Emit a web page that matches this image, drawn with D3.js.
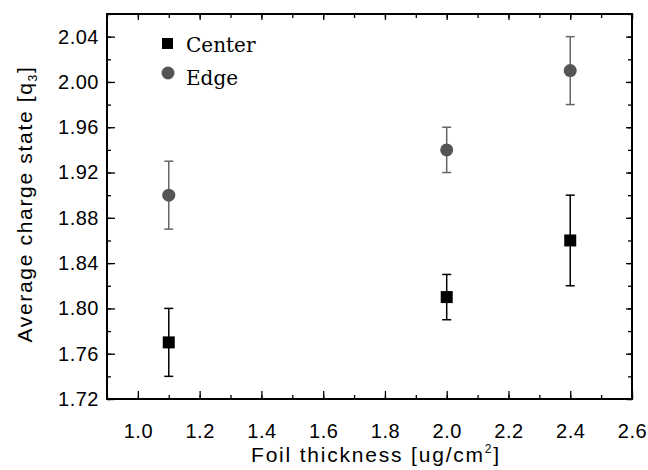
<!DOCTYPE html>
<html><head><meta charset="utf-8">
<script src="https://cdn.jsdelivr.net/npm/d3@7"></script>
<style>body{margin:0;background:#fff}</style>
</head><body>
<svg id="c" width="648" height="470"></svg>
<script>
const thickness = [1.1, 2.0, 2.4];
const centerVals = [1.77, 1.81, 1.86];
const centerErr = [0.03, 0.02, 0.04];
const edgeVals = [1.90, 1.94, 2.01];
const edgeErr = [0.03, 0.02, 0.03];
const xTicks = [1.0, 1.2, 1.4, 1.6, 1.8, 2.0, 2.2, 2.4, 2.6];
const yTicks = [1.72, 1.76, 1.80, 1.84, 1.88, 1.92, 1.96, 2.00, 2.04];

const svg = d3.select("#c");
const L = 107, R = 632, T = 14, B = 399;
const x = d3.scaleLinear().domain([0.9, 2.6]).range([L, R]);
const y = d3.scaleLinear().domain([1.72, 2.06]).range([B, T]);

const xMinor = d3.range(0.9, 2.6001, 0.1).map(v => +v.toFixed(2));
const yMinor = d3.range(1.72, 2.0601, 0.02).map(v => +v.toFixed(3));
const sans = "'Liberation Sans', Arial, sans-serif";

function axisG(gen, tr) {
  const g = svg.append("g").attr("transform", tr).call(gen);
  g.select(".domain").remove();
  g.selectAll("line").attr("stroke", "#000").attr("stroke-width", 1.3);
  return g;
}
axisG(d3.axisBottom(x).tickValues(xMinor).tickSize(-4).tickFormat(""), `translate(0,${B})`);
axisG(d3.axisTop(x).tickValues(xMinor).tickSize(-4).tickFormat(""), `translate(0,${T})`);
axisG(d3.axisLeft(y).tickValues(yMinor).tickSize(-4).tickFormat(""), `translate(${L},0)`);
axisG(d3.axisRight(y).tickValues(yMinor).tickSize(-4).tickFormat(""), `translate(${R},0)`);

const gx = axisG(d3.axisBottom(x).tickValues(xTicks).tickSize(-8).tickPadding(25).tickFormat(d3.format(".1f")), `translate(0,${B})`);
gx.selectAll("text").attr("font-family", sans).attr("font-size", 20).attr("letter-spacing", 0.5).attr("fill", "#000");
const gy = axisG(d3.axisLeft(y).tickValues(yTicks).tickSize(-8).tickPadding(8).tickFormat(d3.format(".2f")), `translate(${L},0)`);
gy.selectAll("text").attr("font-family", sans).attr("font-size", 20).attr("letter-spacing", 0.5).attr("fill", "#000");
axisG(d3.axisTop(x).tickValues(xTicks).tickSize(-6).tickFormat(""), `translate(0,${T})`);
axisG(d3.axisRight(y).tickValues(yTicks).tickSize(-6).tickFormat(""), `translate(${R},0)`);

svg.append("rect").attr("x", L).attr("y", T).attr("width", R - L).attr("height", B - T)
  .attr("fill", "none").attr("stroke", "#000").attr("stroke-width", 2);

function errBars(vals, errs, color) {
  const g = svg.append("g").attr("stroke", color).attr("stroke-width", 1.5);
  thickness.forEach((t, i) => {
    const cx = x(t), y1 = y(vals[i] + errs[i]), y2 = y(vals[i] - errs[i]);
    g.append("line").attr("x1", cx).attr("x2", cx).attr("y1", y1).attr("y2", y2);
    g.append("line").attr("x1", cx - 4.5).attr("x2", cx + 4.5).attr("y1", y1).attr("y2", y1);
    g.append("line").attr("x1", cx - 4.5).attr("x2", cx + 4.5).attr("y1", y2).attr("y2", y2);
  });
}
errBars(edgeVals, edgeErr, "#666");
errBars(centerVals, centerErr, "#000");

svg.append("g").selectAll("circle").data(thickness).join("circle")
  .attr("cx", d => x(d)).attr("cy", (d, i) => y(edgeVals[i])).attr("r", 6.5).attr("fill", "#555");
svg.append("g").selectAll("rect").data(thickness).join("rect")
  .attr("x", d => x(d) - 6).attr("y", (d, i) => y(centerVals[i]) - 6)
  .attr("width", 12).attr("height", 12).attr("fill", "#000");

// legend
const serif = "'DejaVu Serif', 'Liberation Serif', serif";
svg.append("rect").attr("x", 162).attr("y", 38).attr("width", 11).attr("height", 11).attr("fill", "#000");
svg.append("text").attr("x", 186).attr("y", 52).attr("font-family", serif).attr("font-size", 20).text("Center");
svg.append("circle").attr("cx", 168).attr("cy", 73).attr("r", 6.5).attr("fill", "#555");
svg.append("text").attr("x", 186).attr("y", 85).attr("font-family", serif).attr("font-size", 20).text("Edge");

function fitSpacing(t, target, n) {
  const len = t.node().getComputedTextLength();
  t.attr("letter-spacing", Math.max(0, (target - len) / n));
}

const xt = svg.append("text").attr("x", 376).attr("y", 462).attr("text-anchor", "middle")
  .attr("font-family", sans).attr("font-size", 21);
xt.append("tspan").text("Foil thickness [ug/cm");
xt.append("tspan").attr("font-size", 12).attr("dy", -9).text("2");
xt.append("tspan").attr("dy", 9).text("]");
fitSpacing(xt, 250, 23);

const yt = svg.append("text").attr("transform", `translate(32,204) rotate(-90)`)
  .attr("text-anchor", "middle").attr("font-family", sans).attr("font-size", 21);
yt.append("tspan").text("Average charge state [q");
yt.append("tspan").attr("font-size", 12).attr("dy", 5).text("3");
yt.append("tspan").attr("dy", -5).text("]");
fitSpacing(yt, 277, 25);
</script>
</body></html>
